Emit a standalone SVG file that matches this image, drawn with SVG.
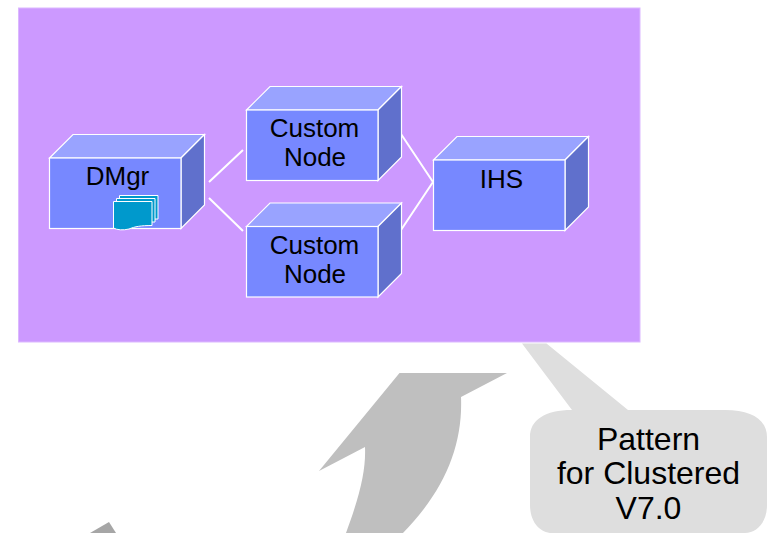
<svg xmlns="http://www.w3.org/2000/svg" width="768" height="533" viewBox="0 0 768 533">
<style>
text{font-family:"Liberation Sans",Arial,sans-serif;fill:#000;text-anchor:middle}
.l{font-size:26px}
.c{font-size:32px}
.f{fill:#7788ff;stroke:#fff;stroke-width:1.2}
.t{fill:#99a3ff;stroke:#fff;stroke-width:1.2}
.s{fill:#6070cc;stroke:#fff;stroke-width:1.2}
.e{fill:none;stroke:#fff;stroke-width:2}
.p{fill:#0099cc;stroke:#fff;stroke-width:1}
</style>
<defs>
<g id="box">
<path class="t" d="M0 23.500L23.500 0H155L131.500 23.500Z"/>
<path class="s" d="M131.500 23.500L155 0V70.500L131.500 94Z"/>
<rect class="f" x="0" y="23.500" width="131.500" height="70.500"/>
</g>
</defs>
<rect id="background" x="18.500" y="8" width="621.500" height="334" fill="#cc99ff" stroke="#dcb8ff" stroke-width="1"/>
<g id="connectors">
<path class="e" d="M209 182L243 150M209 198L243 231M401 134L433 182M401 230L433 182"/>
</g>
<g id="dmgr">
<use href="#box" x="49.500" y="134.500"/>
<text class="l" x="117.500" y="185">DMgr</text>
<path class="p" d="M119.500 195.500H158V219H119.500Z"/>
<path class="p" d="M116.500 198.500H155V222H116.500Z"/>
<path class="p" d="M113.500 201.500H152V225.500C141 225.500 135 226.500 129 229C123 230.500 117 230 113.500 228Z"/>
</g>
<g id="custom-node-1">
<use href="#box" x="246.500" y="86.500"/>
<text class="l" x="314.500" y="137">Custom</text>
<text class="l" x="315" y="166">Node</text>
</g>
<g id="custom-node-2">
<use href="#box" x="246.500" y="203"/>
<text class="l" x="314.500" y="254">Custom</text>
<text class="l" x="315" y="283">Node</text>
</g>
<g id="ihs">
<use href="#box" x="433.500" y="136.500"/>
<text class="l" x="501.500" y="188">IHS</text>
</g>
<g id="arrows">
<path fill="#bfbfbf" d="M399.500 373H507L461 397C463 445 445 490 403 533H346C360 495 366 470 365 447L319 471Z"/>
<path fill="#a6a6a6" d="M109 522L90 533H116Z"/>
</g>
<g id="callout">
<path fill="#dedede" d="M522 343.500H546.500L628 410H725C752 410 767 420 767 437V505C767 522 757 533 745 533H552C540 533 530 522 530 505V437C530 420 545 410 572 410Z"/>
<text class="c" x="648.500" y="450">Pattern</text>
<text class="c" x="648.500" y="484">for Clustered</text>
<text class="c" x="648.500" y="519">V7.0</text>
</g>
</svg>
